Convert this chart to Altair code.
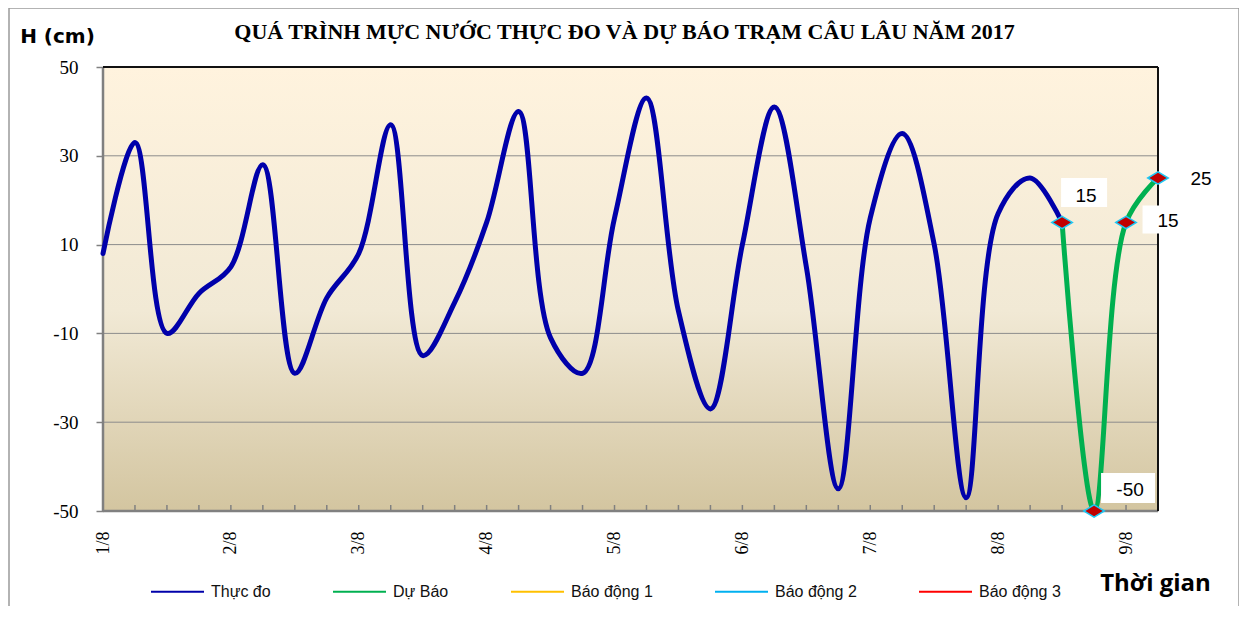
import json
import altair as alt
import pandas as pd

# ---------------- data ----------------
days = ["1/8", "2/8", "3/8", "4/8", "5/8", "6/8", "7/8", "8/8", "9/8"]
hours = ["00h", "06h", "12h", "18h"]
times = [f"{d} {h}" for d in days for h in hours][:34]

thuc_do = [8, 33, -10, -1, 5, 28, -19, -2, 8, 37, -15, -3, 15, 40, -11, -19,
           16, 43, -5, -27, 10, 41, 5, -45, 16, 35, 10, -47, 17, 25, 15]
du_bao = [15, -50, 15, 25]

series_names = ["Thực đo", "Dự Báo", "Báo động 1", "Báo động 2", "Báo động 3"]
series_colors = ["#0000AA", "#00B050", "#FFC000", "#00B0F0", "#FF0000"]
y_ticks = [-50, -30, -10, 10, 30, 50]

title_text = "QUÁ TRÌNH MỰC NƯỚC THỰC ĐO VÀ DỰ BÁO TRẠM  CÂU LÂU NĂM  2017"

# ---------------- tables ----------------
start = len(thuc_do) - 1
obs = pd.DataFrame({"idx": list(range(len(thuc_do))), "time": times[:len(thuc_do)],
                    "H": thuc_do, "series": series_names[0]})
fc = pd.DataFrame({"idx": list(range(start, start + len(du_bao))),
                   "time": times[start:start + len(du_bao)],
                   "H": du_bao, "series": series_names[1]})
cats = pd.DataFrame({"idx": list(range(len(times))), "time": times})
grid = pd.DataFrame({"v": y_ticks})
one = pd.DataFrame({"a": [0]})

W, H = 1055, 444

xscale = alt.Scale(domain=[0, len(times) - 1], nice=False, zero=False)
yscale = alt.Scale(domain=[-50, 50], nice=False, zero=False)

x_axis = alt.Axis(
    values=list(range(0, len(times), 4)),
    labelExpr=f"{json.dumps(days)}[round(datum.value / 4)]",
    labelAngle=270, labelFont="Liberation Serif", labelFontSize=18,
    labelColor="#000000", labelPadding=20, ticks=False, domain=False, grid=False,
    title="Thời gian", titleFont="Open Sans", titleFontSize=24, titleFontWeight="bold",
    titleColor="#000000", titleX=1052, titleY=72, titleAlign="center",
    titleBaseline="middle", titleAngle=0,
)
y_axis = alt.Axis(
    values=y_ticks, labelExpr="toString(datum.value)",
    labelFont="Liberation Serif", labelFontSize=19,
    labelColor="#000000", labelPadding=18, tickSize=7, tickColor="#808080",
    tickWidth=1.5, domain=False, grid=False,
    title="H (cm)", titleFont="DejaVu Sans", titleFontSize=20, titleFontWeight="bold",
    titleAngle=0, titleX=-46, titleY=-31, titleAlign="center",
    titleBaseline="middle", titleColor="#000000",
)


def X(field="idx"):
    return alt.X(f"{field}:Q", scale=xscale, axis=x_axis)


def Y(field="H"):
    return alt.Y(f"{field}:Q", scale=yscale, axis=y_axis)


color = alt.Color(
    "series:N",
    scale=alt.Scale(domain=series_names, range=series_colors),
    legend=alt.Legend(
        title=None, orient="none", direction="horizontal", columns=5,
        legendX=47, legendY=497, symbolType="stroke", symbolSize=2809,
        symbolStrokeWidth=2, labelFont="Liberation Sans", labelFontSize=16,
        labelColor="#111111", labelOffset=6, columnPadding=58,
    ),
)

# ---------------- layers ----------------
bg = alt.Chart(one).mark_rect(
    fill=alt.Gradient(
        gradient="linear",
        stops=[alt.GradientStop(offset=0, color="#FFF3DE"),
               alt.GradientStop(offset=0.55, color="#F1E9D5"),
               alt.GradientStop(offset=1, color="#D3C5A0")],
        x1=0, x2=0, y1=0, y2=1,
    )
).encode(x=alt.value(0), x2=alt.value(W), y=alt.value(0), y2=alt.value(H))

gridlines = alt.Chart(grid).mark_rule(color="#8C8C8C", strokeWidth=1).encode(y=Y("v"))

ticks = alt.Chart(cats).mark_rule(color="#808080", strokeWidth=1.5).encode(
    x=X(), y=alt.value(H), y2=alt.value(H - 6))

left_border = alt.Chart(one).mark_rule(color="#808080", strokeWidth=2.5).encode(
    x=alt.value(0), y=alt.value(0), y2=alt.value(H))
bottom_border = alt.Chart(one).mark_rule(color="#808080", strokeWidth=2.5).encode(
    x=alt.value(0), x2=alt.value(W), y=alt.value(H))
top_border = alt.Chart(one).mark_rule(color="#111111", strokeWidth=2).encode(
    x=alt.value(0), x2=alt.value(W), y=alt.value(0))
right_border = alt.Chart(one).mark_rule(color="#111111", strokeWidth=2).encode(
    x=alt.value(W), y=alt.value(0), y2=alt.value(H))

frame_color = "#9A9A9A"
frame_left = alt.Chart(one).mark_rule(color=frame_color, strokeWidth=1.5).encode(
    x=alt.value(-94), y=alt.value(-59), y2=alt.value(H + 95))
frame_top = alt.Chart(one).mark_rule(color=frame_color, strokeWidth=1.5).encode(
    x=alt.value(-94), x2=alt.value(1136), y=alt.value(-59))
frame_right = alt.Chart(one).mark_rule(color=frame_color, strokeWidth=1.5).encode(
    x=alt.value(1136), y=alt.value(-59), y2=alt.value(H + 95))

line_obs = alt.Chart(obs).mark_line(strokeWidth=5, interpolate="catmull-rom",
                                    strokeCap="round", strokeJoin="round").encode(
    x=X(), y=Y(), color=color)
line_fc = alt.Chart(fc).mark_line(strokeWidth=5, interpolate="catmull-rom",
                                  strokeCap="round", strokeJoin="round").encode(
    x=X(), y=Y(), color=color)

points = alt.Chart(fc).mark_point(
    shape="M-1,0L0,-0.6L1,0L0,0.6Z", size=420, filled=True, fill="#C00000",
    stroke="#1EC8F5", strokeWidth=1.5, opacity=1,
).encode(x=X(), y=Y())

# label styles: (position in forecast, box w, box h, box dx, box dy, text dx, text dy)
label_styles = [
    (0, 46, 29, 22, -30, 24, -26),
    (1, 54, 30, 34, -23, 36, -21),
    (2, 47, 28, 40, -3, 42, -1),
    (3, 40, 28, 43, 1, 43, 1),
]
label_layers = []
for pos, bw, bh, bdx, bdy, tdx, tdy in label_styles:
    sel = fc.iloc[[pos]]
    ratio = bh / bw
    box = alt.Chart(sel).mark_point(
        shape=f"M-1,-{ratio:.3f}H1V{ratio:.3f}H-1Z", size=bw * bw, filled=True,
        fill="#FFFFFF", strokeWidth=0, opacity=1, xOffset=bdx, yOffset=bdy,
    ).encode(x=X(), y=Y())
    txt = alt.Chart(sel).mark_text(
        font="Liberation Sans", fontSize=19, color="#000000", dx=tdx, dy=tdy,
        align="center", baseline="middle",
    ).encode(x=X(), y=Y(), text=alt.Text("H:N"))
    label_layers += [box, txt]

chart = alt.layer(
    bg, gridlines, ticks, left_border, bottom_border, top_border, right_border,
    frame_left, frame_top, frame_right,
    line_obs, line_fc, points, *label_layers,
).properties(
    width=W, height=H,
    title=alt.TitleParams(
        text=title_text, font="Liberation Serif", fontSize=22, fontWeight="bold",
        color="#000000", anchor="middle", frame="group", offset=-37, dx=-6,
    ),
    autosize=alt.AutoSizeParams(type="none"),
    padding={"left": 95, "top": 59, "right": 81, "bottom": 95},
).configure_view(strokeWidth=0).configure(background="#FFFFFF")

chart.save("out.html", embed_options={"renderer": "svg", "actions": False})
